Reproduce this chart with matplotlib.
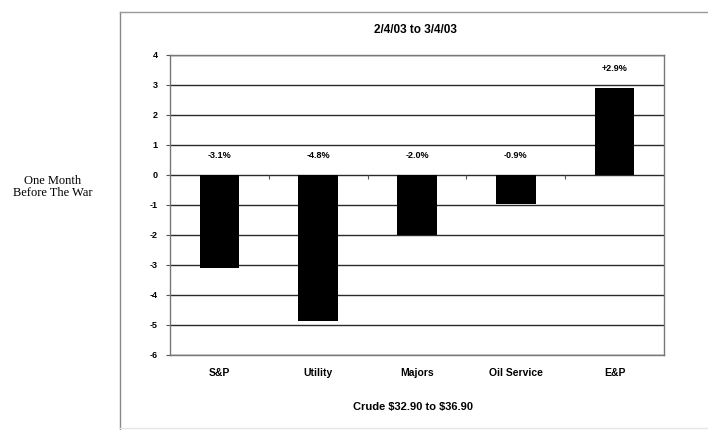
import matplotlib
matplotlib.use("Agg")
import matplotlib.pyplot as plt
from matplotlib.lines import Line2D
import numpy as np

categories = ["S&P", "Utility", "Majors", "Oil Service", "E&P"]
values = [-3.1, -4.85, -2.0, -0.95, 2.9]
value_labels = ["-3.1%", "-4.8%", "-2.0%", "-0.9%", "+2.9%"]
yticks = [4, 3, 2, 1, 0, -1, -2, -3, -4, -5, -6]
title = "2/4/03 to 3/4/03"
xlabel = "Crude \\$32.90 to \\$36.90"
side_label = "One Month\nBefore The War"

plt.rcParams['font.family'] = ['Liberation Sans', 'DejaVu Sans']

fig = plt.figure(figsize=(7.08, 4.30), dpi=100)
ax = fig.add_axes([170/708, 1-355/430, 494/708, 300/430])

x = np.arange(len(categories))
ax.bar(x, values, width=0.4, color="black", zorder=3)
ax.set_xlim(-0.5, len(categories) - 0.5)
ax.set_ylim(-6, 4)
ax.set_yticks(yticks)
ax.set_yticklabels([str(t) for t in yticks], fontsize=6.5, fontweight="bold")
ax.tick_params(axis="y", length=3, width=0.8, color="#555555", pad=6)
ax.set_xticks(x)
ax.set_xticklabels(categories, fontsize=7.5, fontweight="bold")
ax.tick_params(axis="x", length=0, pad=9)
ax.grid(axis="y", color="#2a2a2a", linewidth=1.0, zorder=1)
for s in ax.spines.values():
    s.set_color("#777777")
    s.set_linewidth(1.0)

# small category-boundary ticks on the zero line
bounds = x[:-1] + 0.5
ax.vlines(bounds, -0.12, 0, color="#555555", linewidth=0.8, zorder=2)

for xi, v, lab in zip(x, values, value_labels):
    ypos = (v if v > 0 else 0) + 0.5
    ax.text(xi, ypos, lab, ha="center", va="bottom", fontsize=6.5, fontweight="bold")

fig.text(413/708, 1-407/430, xlabel, ha="center", va="center", fontsize=8, fontweight="bold")
fig.text(415/708, 1-30/430, title, ha="center", va="center", fontsize=8.5, fontweight="bold")
fig.text(53/708, 1-187/430, side_label, ha="center", va="center", fontsize=9,
         family=["Liberation Serif", "DejaVu Serif"], linespacing=0.95)

# outer frame lines
fx = 120/708
fy = 1 - 12/430
fb = 1 - 428/430
fig.add_artist(Line2D([fx, fx], [0, fy], color="#888888", linewidth=1.0, transform=fig.transFigure))
fig.add_artist(Line2D([fx, 1.0], [fy, fy], color="#999999", linewidth=1.0, transform=fig.transFigure))
fig.add_artist(Line2D([fx, 1.0], [fb, fb], color="#e6e6e6", linewidth=1.0, transform=fig.transFigure))

fig.savefig("out.png", dpi=100)
